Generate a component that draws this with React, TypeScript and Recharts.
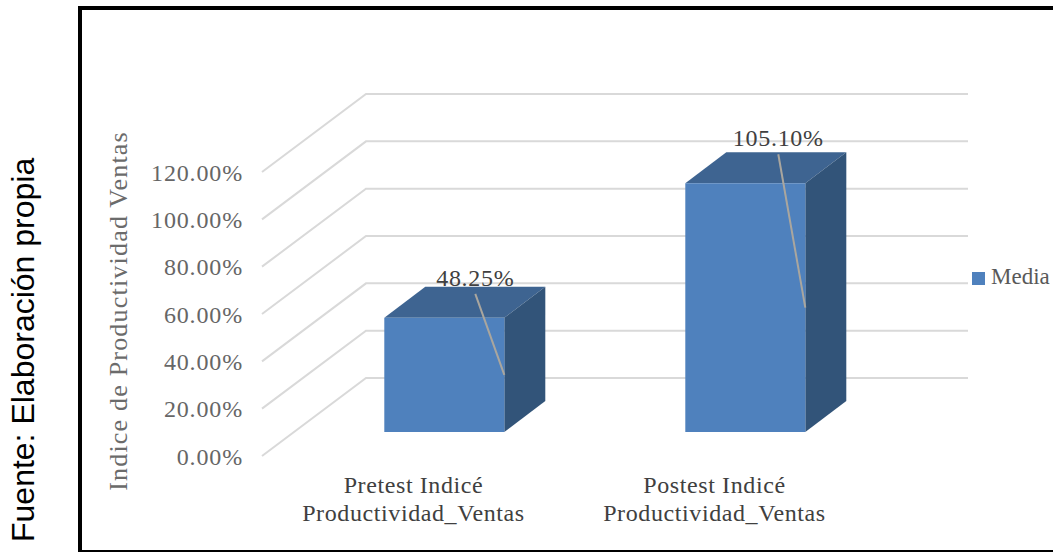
import React from "react";
import { BarChart, Bar, XAxis, YAxis, Legend, LabelList, CartesianGrid } from "recharts";

// Mean productivity index, before and after the intervention
const categories = ["Pretest Indicé|Productividad_Ventas", "Postest Indicé|Productividad_Ventas"];
const media = [48.25, 105.1];
const yTicks = [0, 20, 40, 60, 80, 100, 120];
const sourceNote = "Fuente: Elaboración propia";
const yTitle = "Indice de Productividad Ventas";

const rows = categories.map((name, i) => ({ name, Media: media[i] }));

const FONT = "'Liberation Serif', serif";
const FRONT = "#4f81bd";
const TOP = "#3e6491";
const SIDE = "#325479";
const GRID = "#d9d9d9";

// Perspective offset of the bars' depth and of the chart's walls
const DEPTH_X = 41;
const DEPTH_Y = 31;
const WALL_LEFT = 262;
const WALL_CORNER = 366;
const WALL_RIGHT = 968;
const WALL_FRONT_DROP = 24;
const WALL_BACK_RISE = 54;

const Cube = (props: any) => {
  const { x, y, width, height } = props;
  const r = x + width;
  const b = y + height;
  return (
    <g>
      <polygon points={`${x},${y} ${x + DEPTH_X},${y - DEPTH_Y} ${r + DEPTH_X},${y - DEPTH_Y} ${r},${y}`} fill={TOP} />
      <polygon points={`${r},${y} ${r + DEPTH_X},${y - DEPTH_Y} ${r + DEPTH_X},${b - DEPTH_Y} ${r},${b}`} fill={SIDE} />
      <rect x={x} y={y} width={width} height={height} fill={FRONT} />
    </g>
  );
};

// Each horizontal grid value becomes a line bent along the side and back walls
const WallLine = (props: any) => {
  const { y1 } = props;
  const front = y1 + WALL_FRONT_DROP;
  const back = y1 - WALL_BACK_RISE;
  return (
    <polyline
      points={`${WALL_LEFT},${front} ${WALL_CORNER},${back} ${WALL_RIGHT},${back}`}
      fill="none"
      stroke={GRID}
      strokeWidth={2}
    />
  );
};

const YTick = (props: any) => {
  const { y, payload } = props;
  return (
    <text x={243} y={y + WALL_FRONT_DROP} dy="0.36em" textAnchor="end" fontFamily={FONT} fontSize={24} fill="#666666" letterSpacing={0.85}>
      {payload.value.toFixed(2)}%
    </text>
  );
};

const XTick = (props: any) => {
  const { x, y, payload } = props;
  const [first, second] = payload.value.split("|");
  return (
    <text x={x - 30} y={y} textAnchor="middle" fontFamily={FONT} fontSize={24} letterSpacing={0.6} fill="#404040">
      <tspan x={x - 31} dy={53}>{first}</tspan>
      <tspan x={x - 31} dy={28}>{second}</tspan>
    </text>
  );
};

// Hand-placed data labels, each tied to its bar by a leader line
const labelPlacement = [
  { dx: 91, textDy: -32, leaderDy: -24 },
  { dx: 93, textDy: -37, leaderDy: -29 },
];

const CalloutLabel = (props: any) => {
  const { x, y, width, height, value, index } = props;
  const p = labelPlacement[index];
  return (
    <g>
      <line x1={x + p.dx} y1={y + p.leaderDy} x2={x + width} y2={y + height / 2} stroke="#aaa69e" strokeWidth={2} />
      <text x={x + p.dx} y={y + p.textDy} textAnchor="middle" fontFamily={FONT} fontSize={24} fill="#404040" letterSpacing={0.7}>
        {Number(value).toFixed(2)}%
      </text>
    </g>
  );
};

export default function App() {
  return (
    <div style={{ position: "absolute", left: 0, top: 0, width: 1053, height: 552, background: "#fff", overflow: "hidden" }}>
      <div style={{ position: "absolute", left: 78, top: 6, width: 1000, height: 540, border: "4px solid #000" }} />
      <div style={{ position: "absolute", left: 0, top: 0 }}>
        <BarChart
          width={1053}
          height={552}
          data={rows}
          margin={{ top: 148, right: 57, bottom: 0, left: 0 }}
          barCategoryGap="30%"
        >
          <CartesianGrid vertical={false} horizontal={<WallLine />} />
          <XAxis dataKey="name" height={120} axisLine={false} tickLine={false} tick={<XTick />} interval={0} />
          <YAxis
            width={294}
            domain={[0, 120]}
            ticks={yTicks}
            axisLine={false}
            tickLine={false}
            tick={<YTick />}
            interval={0}
            label={{
              content: () => (
                <text
                  transform="translate(127,311) rotate(-90)"
                  textAnchor="middle"
                  fontFamily={FONT}
                  fontSize={26}
                  letterSpacing={1.2}
                  fill="#6b6b6b"
                >
                  {yTitle}
                </text>
              ),
            }}
          />
          <Legend
            layout="vertical"
            align="right"
            verticalAlign="top"
            iconType="square"
            iconSize={13}
            wrapperStyle={{ left: 972, top: 264, width: 100, fontFamily: FONT, fontSize: 23, whiteSpace: "nowrap" }}
            formatter={(v: string) => (
              <span style={{ color: "#595959", marginLeft: 2, whiteSpace: "nowrap" }}>{v}</span>
            )}
          />
          <Bar dataKey="Media" fill={FRONT} shape={<Cube />} isAnimationActive={false}>
            <LabelList dataKey="Media" content={<CalloutLabel />} />
          </Bar>
          <text
            transform="translate(34,542) rotate(-90)"
            fontFamily="'Liberation Sans', sans-serif"
            fontSize={32}
            fill="#000"
          >
            {sourceNote}
          </text>
        </BarChart>
      </div>
    </div>
  );
}
